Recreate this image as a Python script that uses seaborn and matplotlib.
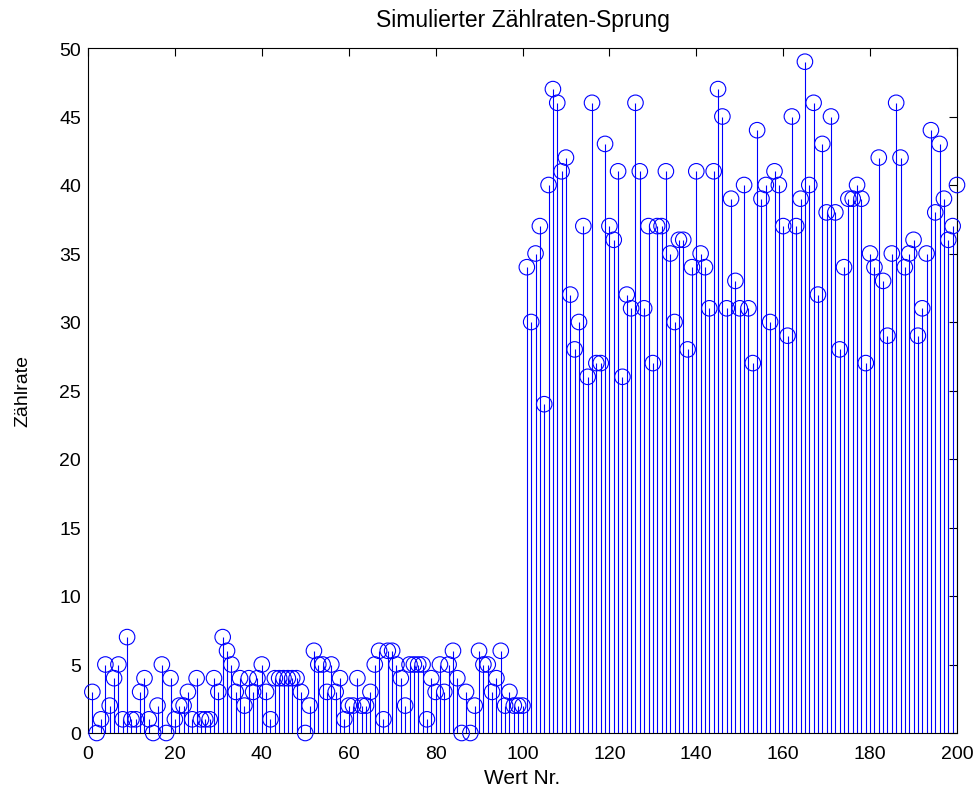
import numpy as np
import pandas as pd
import matplotlib
matplotlib.use("Agg")
import matplotlib.pyplot as plt
import seaborn as sns

# --- data ---
wert_nr = list(range(1, 201))
low_rates = [3, 0, 1, 5, 2, 4, 5, 1, 7, 1, 1, 3, 4, 1, 0, 2, 5, 0, 4, 1,
             2, 2, 3, 1, 4, 1, 1, 1, 4, 3, 7, 6, 5, 3, 4, 2, 4, 3, 4, 5,
             3, 1, 4, 4, 4, 4, 4, 4, 3, 0, 2, 6, 5, 5, 3, 5, 3, 4, 1, 2,
             2, 4, 2, 2, 3, 5, 6, 1, 6, 6, 5, 4, 2, 5, 5, 5, 5, 1, 4, 3,
             5, 3, 5, 6, 4, 0, 3, 0, 2, 6, 5, 5, 3, 4, 6, 2, 3, 2, 2, 2]
high_rates = [34, 30, 35, 37, 24, 40, 47, 46, 41, 42, 32, 28, 30, 37, 26, 46, 27, 27, 43, 37,
              36, 41, 26, 32, 31, 46, 41, 31, 37, 27, 37, 37, 41, 35, 30, 36, 36, 28, 34, 41,
              35, 34, 31, 41, 47, 45, 31, 39, 33, 31, 40, 31, 27, 44, 39, 40, 30, 41, 40, 37,
              29, 45, 37, 39, 49, 40, 46, 32, 43, 38, 45, 38, 28, 34, 39, 39, 40, 39, 27, 35,
              34, 42, 33, 29, 35, 46, 42, 34, 35, 36, 29, 31, 35, 44, 38, 43, 39, 36, 37, 40]
zaehlrate = low_rates + high_rates

title = "Simulierter Zählraten-Sprung"
xlabel = "Wert Nr."
ylabel = "Zählrate"
xticks = list(range(0, 201, 20))
yticks = list(range(0, 51, 5))

df = pd.DataFrame({"Wert Nr.": wert_nr, "Zählrate": zaehlrate})

sns.set_style("white")
plt.rcParams["font.family"] = ["Liberation Sans", "DejaVu Sans"]
plt.rcParams["text.color"] = "black"
plt.rcParams["axes.labelcolor"] = "black"

fig = plt.figure(figsize=(9.8, 8.03), dpi=100)
ax = fig.add_axes([88 / 980, 1 - 734 / 803, (957 - 88) / 980, (734 - 49) / 803])

blue = (0, 0, 1)
ax.vlines(df["Wert Nr."], 0, df["Zählrate"], colors=[blue], linewidth=0.8, zorder=2)
sns.scatterplot(data=df, x="Wert Nr.", y="Zählrate", ax=ax, marker="o", s=125,
                facecolors="none", edgecolor=blue, linewidth=0.8, zorder=3,
                legend=False, clip_on=False)

ax.set_xlim(0, 200)
ax.set_ylim(0, 50)
ax.set_xticks(xticks)
ax.set_yticks(yticks)
ax.tick_params(direction="in", length=6, width=0.8, top=True, right=True,
               labelsize=14, colors="black")
ax.tick_params(axis="x", pad=9)
ax.tick_params(axis="y", pad=5)
for s in ax.spines.values():
    s.set_visible(True)
    s.set_color("black")
    s.set_linewidth(0.8)
ax.set_title(title, fontsize=16.5, pad=16, color="black")
ax.set_xlabel(xlabel, fontsize=15, labelpad=4, color="black")
ax.set_ylabel(ylabel, fontsize=14, labelpad=20, color="black")
ax.grid(False)
fig.patch.set_facecolor("white")
fig.savefig("out.png", dpi=100, facecolor="white")
